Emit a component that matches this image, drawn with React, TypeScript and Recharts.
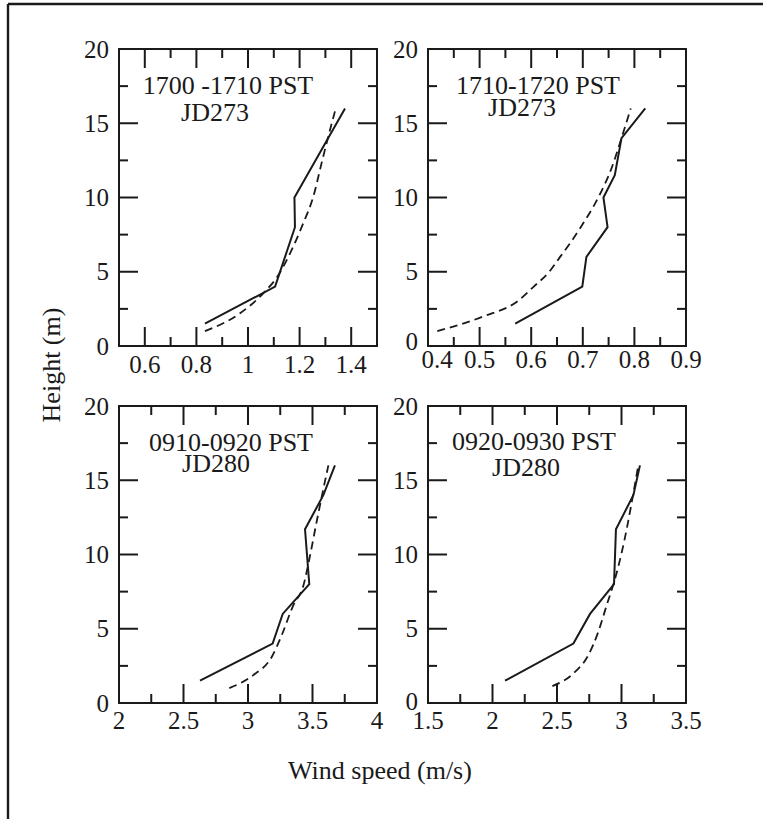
import React from 'react';
import { LineChart, Line, XAxis, YAxis } from 'recharts';

const INK = '#1a1a1a';
const FONT = '"Liberation Serif", serif';

// heights (m) and wind speeds (m/s)
// solid = measured profile, dashed = fitted profile
const p1SolidH = [1.5, 4, 8, 10, 14, 16];
const p1SolidV = [0.833, 1.105, 1.182, 1.18, 1.311, 1.376];
const p1DashH = [1, 2.2, 3.55, 4.78, 6.24, 8.26, 10.05, 12.3, 14.1, 15.8];
const p1DashV = [0.833, 0.969, 1.059, 1.118, 1.163, 1.214, 1.253, 1.285, 1.311, 1.337];

const p2SolidH = [1.5, 4, 6, 8, 10, 11.5, 14, 16];
const p2SolidV = [0.569, 0.699, 0.707, 0.748, 0.74, 0.762, 0.775, 0.821];
const p2DashH = [1, 2, 3, 4, 5, 6, 7, 8, 10, 12, 14, 16];
const p2DashV = [0.418, 0.508, 0.573, 0.605, 0.635, 0.656, 0.677, 0.696, 0.73, 0.756, 0.775, 0.793];

const p3SolidH = [1.5, 4, 6, 8, 11.7, 14, 16];
const p3SolidV = [2.628, 3.191, 3.269, 3.475, 3.442, 3.584, 3.674];
const p3DashH = [1, 1.88, 3.1, 4.56, 6.58, 7.9, 9.93, 12.2, 14.2, 16];
const p3DashV = [2.855, 3.041, 3.184, 3.261, 3.351, 3.429, 3.481, 3.532, 3.579, 3.623];

const p4SolidH = [1.5, 4, 6, 8, 11.7, 14, 16];
const p4SolidV = [2.097, 2.627, 2.756, 2.942, 2.957, 3.092, 3.143];
const p4DashH = [1.14, 1.99, 3.22, 4.79, 6.58, 8.37, 10.15, 11.7, 13.5, 16];
const p4DashV = [2.464, 2.627, 2.743, 2.82, 2.885, 2.95, 3.002, 3.04, 3.079, 3.13];

// axis ticks
const yTicks = [0, 2.5, 5, 7.5, 10, 12.5, 15, 17.5, 20];
const yLabels = [0, 5, 10, 15, 20];

const p1Ticks = [0.6, 0.7, 0.8, 0.9, 1, 1.1, 1.2, 1.3, 1.4];
const p1Labels = [0.6, 0.8, 1, 1.2, 1.4];
const p2Ticks = [0.4, 0.45, 0.5, 0.55, 0.6, 0.65, 0.7, 0.75, 0.8, 0.85, 0.9];
const p2Labels = [0.4, 0.5, 0.6, 0.7, 0.8, 0.9];
const p3Ticks = [2, 2.25, 2.5, 2.75, 3, 3.25, 3.5, 3.75, 4];
const p3Labels = [2, 2.5, 3, 3.5, 4];
const p4Ticks = [1.5, 1.75, 2, 2.25, 2.5, 2.75, 3, 3.25, 3.5];
const p4Labels = [1.5, 2, 2.5, 3, 3.5];

const titles = ['1700 -1710 PST', '1710-1720 PST', '0910-0920 PST', '0920-0930 PST'];
const days = ['JD273', 'JD273', 'JD280', 'JD280'];

const toPts = (h: number[], v: number[]) => h.map((hh, i) => ({ h: hh, v: v[i] }));
const near = (a: number, b: number) => Math.abs(a - b) < 1e-6;

const panels = [
  { left: 119, top: 49, domain: [0.5, 1.5], ticks: p1Ticks, labels: p1Labels, solid: toPts(p1SolidH, p1SolidV), dashed: toPts(p1DashH, p1DashV), labelDy: 27, firstDx: 0, zeroDy: 0 },
  { left: 428, top: 49, domain: [0.4, 0.9], ticks: p2Ticks, labels: p2Labels, solid: toPts(p2SolidH, p2SolidV), dashed: toPts(p2DashH, p2DashV), labelDy: 22, firstDx: 9, zeroDy: -5 },
  { left: 119, top: 406, domain: [2, 4], ticks: p3Ticks, labels: p3Labels, solid: toPts(p3SolidH, p3SolidV), dashed: toPts(p3DashH, p3DashV), labelDy: 26, firstDx: 0, zeroDy: 0 },
  { left: 428, top: 406, domain: [1.5, 3.5], ticks: p4Ticks, labels: p4Labels, solid: toPts(p4SolidH, p4SolidV), dashed: toPts(p4DashH, p4DashV), labelDy: 26, firstDx: 0, zeroDy: -2 },
];

const Y_W = 50;
const R_W = 20;
const T_H = 20;
const B_H = 40;
const PLOT_W = 258;
const PLOT_H = 297;

const axisStyle = { stroke: INK, strokeWidth: 2, strokeLinecap: 'square' as const };

function Panel({ cfg }: { cfg: any }) {
  const { domain, ticks, labels } = cfg;
  const edgeX = (v: number) => near(v, domain[0]) || near(v, domain[1]);
  const edgeY = (v: number) => near(v, 0) || near(v, 20);

  const bottomTick = (p: any) => {
    const v = p.payload.value;
    const major = labels.some((l: number) => near(l, v));
    return (
      <g>
        {!edgeX(v) && <line x1={p.x} x2={p.x} y1={p.y} y2={p.y - (major ? 19 : 9)} stroke={INK} strokeWidth={2} />}
        {major && (
          <text x={p.x + (near(v, domain[0]) ? cfg.firstDx : 0)} y={p.y + cfg.labelDy} textAnchor="middle" fontSize={25} fontFamily={FONT} fill={INK}>
            {String(v)}
          </text>
        )}
      </g>
    );
  };

  const topTick = (p: any) => {
    const v = p.payload.value;
    const major = labels.some((l: number) => near(l, v));
    if (edgeX(v)) return <g />;
    return <line x1={p.x} x2={p.x} y1={p.y} y2={p.y + (major ? 19 : 9)} stroke={INK} strokeWidth={2} />;
  };

  const leftTick = (p: any) => {
    const v = p.payload.value;
    const major = yLabels.some((l) => near(l, v));
    return (
      <g>
        {!edgeY(v) && <line x1={p.x} x2={p.x + (major ? 19 : 9)} y1={p.y} y2={p.y} stroke={INK} strokeWidth={2} />}
        {major && (
          <text x={p.x - 10} y={p.y + 8.5 + (near(v, 0) ? cfg.zeroDy : 0)} textAnchor="end" fontSize={25} fontFamily={FONT} fill={INK}>
            {String(v)}
          </text>
        )}
      </g>
    );
  };

  const rightTick = (p: any) => {
    const v = p.payload.value;
    const major = yLabels.some((l) => near(l, v));
    if (edgeY(v)) return <g />;
    return <line x1={p.x} x2={p.x - (major ? 19 : 9)} y1={p.y} y2={p.y} stroke={INK} strokeWidth={2} />;
  };

  return (
    <div style={{ position: 'absolute', left: cfg.left - Y_W, top: cfg.top - T_H }}>
      <LineChart width={Y_W + PLOT_W + R_W} height={T_H + PLOT_H + B_H} margin={{ top: 0, right: 0, bottom: 0, left: 0 }}>
        <XAxis xAxisId="b" type="number" dataKey="v" domain={domain} ticks={ticks} interval={0} allowDataOverflow
          height={B_H} tickSize={0} tickMargin={0} tickLine={false} axisLine={axisStyle} tick={bottomTick} />
        <XAxis xAxisId="t" orientation="top" type="number" dataKey="v" domain={domain} ticks={ticks} interval={0} allowDataOverflow
          height={T_H} tickSize={0} tickMargin={0} tickLine={false} axisLine={axisStyle} tick={topTick} />
        <YAxis yAxisId="l" type="number" dataKey="h" domain={[0, 20]} ticks={yTicks} interval={0} allowDataOverflow
          width={Y_W} tickSize={0} tickMargin={0} tickLine={false} axisLine={axisStyle} tick={leftTick} />
        <YAxis yAxisId="r" orientation="right" type="number" dataKey="h" domain={[0, 20]} ticks={yTicks} interval={0} allowDataOverflow
          width={R_W} tickSize={0} tickMargin={0} tickLine={false} axisLine={axisStyle} tick={rightTick} />
        <Line xAxisId="b" yAxisId="l" data={cfg.dashed} dataKey="h" type="monotone" stroke={INK} strokeWidth={1.8}
          strokeDasharray="8 5" dot={false} isAnimationActive={false} />
        <Line xAxisId="b" yAxisId="l" data={cfg.solid} dataKey="h" type="linear" stroke={INK} strokeWidth={2}
          dot={false} isAnimationActive={false} />
      </LineChart>
    </div>
  );
}

export default function App() {
  const titlePos = [
    { x: 228, y: 94, dx: 215, dy: 121 },
    { x: 538, y: 94, dx: 522, dy: 116 },
    { x: 231, y: 451, dx: 216, dy: 472 },
    { x: 534, y: 450, dx: 526, dy: 476 },
  ];
  return (
    <div style={{ position: 'absolute', left: 0, top: 0, width: 763, height: 819, background: '#fff', overflow: 'hidden' }}>
      {panels.map((cfg, i) => (
        <Panel key={i} cfg={cfg} />
      ))}
      <svg width={763} height={819} style={{ position: 'absolute', left: 0, top: 0, pointerEvents: 'none' }}>
        {/* figure frame */}
        <line x1={8} y1={4} x2={763} y2={4} stroke={INK} strokeWidth={2.4} />
        <line x1={8} y1={4} x2={8} y2={819} stroke={INK} strokeWidth={2.4} />
        {titlePos.map((t, i) => (
          <g key={i} fontSize={26} fill={INK} textAnchor="middle" fontFamily={FONT}>
            <text x={t.x} y={t.y}>{titles[i]}</text>
            <text x={t.dx} y={t.dy}>{days[i]}</text>
          </g>
        ))}
        <text x={60} y={365} transform="rotate(-90 60 365)" textAnchor="middle" fontSize={26} fill={INK} fontFamily={FONT}>
          Height (m)
        </text>
        <text x={380} y={779} textAnchor="middle" fontSize={26} fill={INK} fontFamily={FONT}>
          Wind speed (m/s)
        </text>
      </svg>
    </div>
  );
}
